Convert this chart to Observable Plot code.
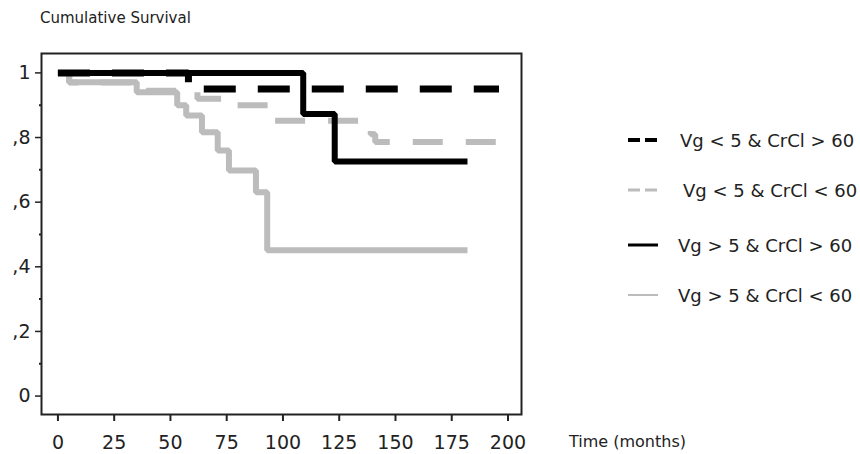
<!DOCTYPE html>
<html>
<head>
<meta charset="utf-8">
<script src="https://cdn.jsdelivr.net/npm/d3@7"></script>
<script src="https://cdn.jsdelivr.net/npm/@observablehq/plot@0.6"></script>
<style>
  html, body { margin: 0; padding: 0; background: #fff; }
  #wrap { position: relative; width: 860px; height: 454px; overflow: hidden; font-family: "DejaVu Sans", sans-serif; color: #222; }
  #wrap svg.plot { position: absolute; left: 0; top: 0; }
  .title { position: absolute; left: 40px; top: 9px; font-size: 15px; }
  .xlabel { position: absolute; left: 569px; top: 432px; font-size: 16px; }
  .legend { position: absolute; left: 626px; top: 0; }
  .row { position: absolute; left: 0; width: 260px; height: 24px; display: flex; align-items: center; white-space: nowrap; font-size: 18px; }
  .row svg { flex: none; }
</style>
</head>
<body>
<div id="wrap">
  <div class="title">Cumulative Survival</div>
  <div class="xlabel">Time (months)</div>
  <div class="legend" id="legend"></div>
</div>
<script>
// ---- data ----
const seriesNames = [
  "Vg < 5 & CrCl > 60",
  "Vg < 5 & CrCl < 60",
  "Vg > 5 & CrCl > 60",
  "Vg > 5 & CrCl < 60"
];
// Vg < 5 & CrCl > 60 (black dashed)
const s1Time = [0, 58, 196];
const s1Surv = [1, 0.95, 0.95];
// Vg < 5 & CrCl < 60 (grey dashed)
const s2Time = [0, 5, 35, 62, 78, 96, 139, 141, 195];
const s2Surv = [1, 0.97, 0.945, 0.92, 0.90, 0.852, 0.81, 0.786, 0.786];
// Vg > 5 & CrCl > 60 (black solid)
const s3Time = [0, 109, 123, 182];
const s3Surv = [1, 0.873, 0.726, 0.726];
// Vg > 5 & CrCl < 60 (grey solid)
const s4Time = [0, 5, 35, 53, 57, 64, 71, 76, 88, 93, 182];
const s4Surv = [1, 0.971, 0.94, 0.90, 0.868, 0.816, 0.76, 0.698, 0.631, 0.451, 0.451];

const xTicks = [0, 25, 50, 75, 100, 125, 150, 175, 200];
const yTicks = [0, 0.2, 0.4, 0.6, 0.8, 1];
const yTickLabels = ["0", ",2", ",4", ",6", ",8", "1"];
const yMinorTicks = [0.1, 0.3, 0.5, 0.7, 0.9];

// ---- styles ----
const styles = [
  {stroke: "#000", width: 7, dash: "32,22"},
  {stroke: "#bcbcbc", width: 6, dash: "30,23"},
  {stroke: "#000", width: 6, dash: null},
  {stroke: "#bcbcbc", width: 6, dash: null}
];

const toRows = (t, s) => t.map((v, i) => ({t: v, s: s[i]}));
const series = [toRows(s1Time, s1Surv), toRows(s2Time, s2Surv), toRows(s3Time, s3Surv), toRows(s4Time, s4Surv)];
const drawOrder = [3, 1, 0, 2];

const lineMarks = drawOrder.map(i => Plot.line(series[i], {
  x: "t", y: "s", curve: "step-after",
  stroke: styles[i].stroke, strokeWidth: styles[i].width,
  strokeDasharray: styles[i].dash || undefined,
  strokeLinecap: "butt", strokeLinejoin: "miter"
}));

const chart = Plot.plot({
  width: 860, height: 454,
  marginLeft: 41, marginRight: 339, marginTop: 53, marginBottom: 40,
  style: {fontFamily: "DejaVu Sans, sans-serif", fontSize: "19px", color: "#222", background: "transparent"},
  x: {domain: [-7.3, 206]},
  y: {domain: [-0.057, 1.06]},
  marks: [
    ...lineMarks,
    Plot.frame({stroke: "#222", strokeWidth: 2}),
    Plot.axisX({ticks: xTicks, tickSize: 7, tickPadding: 14, label: null, strokeWidth: 2, fontSize: 19,
      tickFormat: d => String(d)}),
    Plot.axisY({ticks: yTicks, tickSize: 6, tickPadding: 5, label: null, strokeWidth: 1.5, fontSize: 19,
      tickFormat: d => yTickLabels[yTicks.indexOf(d)]}),
    Plot.axisY({ticks: yMinorTicks, tickSize: 2, text: null, label: null, strokeWidth: 2})
  ]
});
chart.classList.add("plot");
document.getElementById("wrap").prepend(chart);

// ---- legend ----
const legendRows = [140, 190, 245, 295];
const legendTextX = [54, 57, 52, 52];
const legend = document.getElementById("legend");
seriesNames.forEach((name, i) => {
  const row = document.createElement("div");
  row.className = "row";
  row.style.top = (legendRows[i] - 12) + "px";
  const sw = [4, 3, 3, 2][i];
  const dash = i < 2 ? 'stroke-dasharray="12,5"' : '';
  row.innerHTML = `<svg width="${legendTextX[i]}" height="24"><line x1="2" x2="32" y1="12" y2="12" stroke="${styles[i].stroke}" stroke-width="${sw}" ${dash}/></svg><span>${name}</span>`;
  legend.appendChild(row);
});
</script>
</body>
</html>
